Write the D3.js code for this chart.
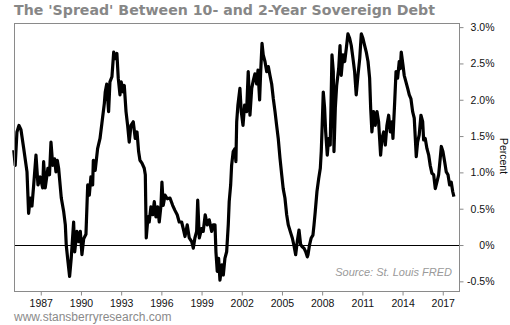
<!DOCTYPE html>
<html>
<head>
<meta charset="utf-8">
<script src="https://cdn.jsdelivr.net/npm/d3@7"></script>
<style>
  html, body { margin: 0; padding: 0; background: #fff; }
  svg { display: block; }
</style>
</head>
<body>
<svg id="chart" width="510" height="325"></svg>
<script>
// ---- data ----
const years = [
  1985.02,1985.13,1985.26,1985.41,1985.56,1985.76,1986.01,1986.13,1986.25,1986.38,1986.51,1986.68,1986.83,
  1987.00,1987.18,1987.25,1987.37,1987.57,1987.69,1987.80,1987.93,1988.07,1988.17,1988.27,1988.37,1988.57,
  1988.75,1988.87,1988.94,1989.07,1989.19,1989.31,1989.49,1989.57,1989.74,1989.87,1989.99,1990.11,1990.24,
  1990.41,1990.54,1990.66,1990.78,1990.91,1990.96,1991.10,1991.28,1991.46,1991.60,1991.78,1991.85,1991.96,
  1992.10,1992.20,1992.35,1992.48,1992.60,1992.72,1992.82,1992.95,1993.04,1993.19,1993.27,1993.40,1993.52,
  1993.64,1993.77,1993.94,1994.09,1994.22,1994.34,1994.44,1994.59,1994.76,1994.84,1994.91,1995.04,1995.13,
  1995.26,1995.39,1995.51,1995.63,1995.76,1995.88,1996.01,1996.08,1996.18,1996.31,1996.48,1996.68,1996.88,
  1997.05,1997.22,1997.37,1997.55,1997.67,1997.80,1997.97,1998.12,1998.30,1998.42,1998.54,1998.67,1998.75,
  1998.87,1999.04,1999.16,1999.31,1999.46,1999.61,1999.79,1999.91,2000.04,2000.11,2000.21,2000.31,2000.41,
  2000.56,2000.66,2000.78,2000.91,2001.03,2001.10,2001.21,2001.28,2001.40,2001.53,2001.60,2001.66,2001.75,
  2001.90,2002.00,2002.13,2002.25,2002.40,2002.52,2002.65,2002.78,2002.90,2003.02,2003.15,2003.25,2003.37,
  2003.45,2003.55,2003.64,2003.77,2003.90,2004.02,2004.14,2004.27,2004.39,2004.52,2004.64,2004.76,2004.89,
  2005.02,2005.13,2005.26,2005.39,2005.51,2005.69,2005.81,2005.93,2006.06,2006.18,2006.31,2006.43,2006.55,
  2006.68,2006.81,2006.93,2006.98,2007.10,2007.22,2007.35,2007.43,2007.52,2007.65,2007.78,2007.90,2007.97,
  2008.04,2008.12,2008.22,2008.30,2008.42,2008.52,2008.64,2008.77,2008.87,2008.92,2009.02,2009.12,2009.27,
  2009.37,2009.46,2009.59,2009.72,2009.84,2009.96,2010.09,2010.21,2010.34,2010.46,2010.58,2010.71,2010.84,
  2010.96,2011.08,2011.21,2011.33,2011.46,2011.58,2011.66,2011.75,2011.88,2012.00,2012.13,2012.25,2012.40,
  2012.50,2012.63,2012.75,2012.87,2013.00,2013.12,2013.25,2013.32,2013.45,2013.55,2013.67,2013.79,2013.87,
  2013.94,2014.07,2014.16,2014.29,2014.42,2014.54,2014.66,2014.79,2014.91,2014.99,2015.06,2015.16,2015.28,
  2015.41,2015.54,2015.61,2015.73,2015.86,2015.99,2016.10,2016.23,2016.36,2016.48,2016.60,2016.73,2016.85,
  2016.93,2017.05,2017.18,2017.30,2017.43,2017.55,2017.67,2017.78,2017.87
];
const spread = [
  1.30,1.09,1.55,1.64,1.58,1.33,1.00,0.43,0.64,0.53,0.82,1.23,0.82,
  0.93,0.78,1.14,0.78,1.05,0.96,1.41,1.09,1.18,1.00,1.16,1.05,0.64,
  0.45,0.27,-0.01,-0.24,-0.44,-0.19,0.31,-0.10,0.18,0.04,0.18,-0.14,0.08,
  0.14,0.82,0.68,0.93,0.82,1.16,1.02,1.32,1.46,1.67,1.94,2.10,2.21,
  1.83,2.24,2.31,2.65,2.56,2.63,2.29,2.06,2.24,2.10,2.19,1.83,1.64,
  1.41,1.64,1.69,1.46,1.55,1.28,1.16,1.12,1.05,0.96,0.09,0.38,0.31,
  0.52,0.41,0.59,0.38,0.52,0.31,0.54,0.86,0.54,0.68,0.63,0.64,0.54,
  0.47,0.41,0.31,0.31,0.22,0.11,0.27,0.09,0.04,-0.05,0.09,0.18,0.61,
  0.09,0.22,0.18,0.41,0.27,0.34,0.18,0.27,0.27,-0.10,-0.37,-0.19,-0.49,
  -0.28,-0.42,-0.19,-0.10,0.27,0.59,0.82,1.09,1.28,1.32,1.14,1.69,1.92,
  2.15,1.83,1.64,1.92,1.83,2.38,1.78,2.15,2.26,2.35,2.21,2.40,1.99,
  2.38,2.77,2.61,2.52,2.38,2.45,2.33,2.21,2.01,1.83,1.64,1.46,1.19,
  0.96,0.77,0.64,0.41,0.27,0.16,0.09,-0.01,-0.14,0.04,0.20,0.00,-0.03,
  -0.05,-0.10,-0.17,-0.14,0.00,0.09,0.13,0.27,0.45,0.73,0.91,1.05,1.28,
  1.64,2.10,1.88,1.55,1.23,1.46,1.37,2.61,2.38,1.28,1.88,2.19,2.42,
  2.74,2.33,2.61,2.52,2.70,2.90,2.84,2.74,2.56,2.38,2.06,2.33,2.56,
  2.90,2.84,2.74,2.65,2.52,2.29,1.87,1.55,1.83,1.64,1.83,1.69,1.23,
  1.46,1.55,1.37,1.64,1.78,1.55,1.69,1.46,1.96,2.38,2.29,2.52,2.42,
  2.65,2.47,2.33,2.24,2.15,2.06,2.01,1.83,1.74,1.46,1.21,1.41,1.51,
  1.78,1.69,1.44,1.46,1.32,1.23,1.09,0.98,0.96,0.77,0.86,0.96,1.19,
  1.35,1.28,1.14,1.00,0.96,0.82,0.86,0.73,0.66
];
const xTicks = [1987,1990,1993,1996,1999,2002,2005,2008,2011,2014,2017];
const yTicks = [-0.5,0,0.5,1.0,1.5,2.0,2.5,3.0];
const yTickLabels = ["-0.5%","0%","0.5%","1.0%","1.5%","2.0%","2.5%","3.0%"];

const title = "The 'Spread' Between 10- and 2-Year Sovereign Debt";
const source = "Source: St. Louis FRED";
const footer = "www.stansberryresearch.com";
const yLabel = "Percent";

// ---- layout ----
const L = 14, R = 459, T = 23, B = 291;
const svg = d3.select("#chart");

const x = d3.scaleLinear().domain([1985.04, 2018.25]).range([L, R]);
const y = d3.scaleLinear().domain([-0.64, 3.05]).range([B, T]);

const data = years.map((yr, i) => ({ t: yr, v: spread[i] }));

// title
svg.append("text")
  .attr("x", 14).attr("y", 15)
  .attr("font-family", "DejaVu Sans, Verdana, sans-serif")
  .attr("font-weight", "bold")
  .attr("font-size", 13.5)
  .attr("fill", "#878787")
  .attr("textLength", 421)
  .attr("lengthAdjust", "spacingAndGlyphs")
  .text(title);

// zero line
svg.append("line")
  .attr("x1", L).attr("x2", R)
  .attr("y1", Math.round(y(0)) + 0.5).attr("y2", Math.round(y(0)) + 0.5)
  .attr("stroke", "#000").attr("stroke-width", 1.2);

// series line
const line = d3.line().x(d => x(d.t)).y(d => y(d.v));
svg.append("path")
  .datum(data)
  .attr("d", line)
  .attr("fill", "none")
  .attr("stroke", "#000")
  .attr("stroke-width", 3.2)
  .attr("stroke-linejoin", "round");

// frame
svg.append("rect")
  .attr("x", L + 0.5).attr("y", T + 0.5)
  .attr("width", R - L).attr("height", B - T)
  .attr("fill", "none").attr("stroke", "#8a8a8a").attr("stroke-width", 1);

// bottom axis
const gx = svg.append("g")
  .attr("transform", `translate(0.5,${B + 0.5})`)
  .call(d3.axisBottom(x).tickValues(xTicks).tickFormat(d3.format("d")).tickSize(4).tickPadding(4));
gx.select(".domain").remove();
gx.selectAll(".tick line").attr("stroke", "#8a8a8a");
gx.selectAll(".tick text")
  .attr("font-family", "Liberation Sans, Arial, sans-serif")
  .attr("font-size", 10.5).attr("fill", "#111");

// right axis
const gy = svg.append("g")
  .attr("transform", `translate(${R + 0.5},0.5)`)
  .call(d3.axisRight(y).tickValues(yTicks).tickFormat((d, i) => yTickLabels[i]).tickSize(4));
gy.select(".domain").remove();
gy.selectAll(".tick line").attr("stroke", "#8a8a8a");
gy.selectAll(".tick text")
  .attr("x", 494 - R)
  .attr("text-anchor", "end")
  .attr("font-family", "Liberation Sans, Arial, sans-serif")
  .attr("font-size", 10.5).attr("fill", "#111");

// y label
svg.append("text")
  .attr("transform", `translate(500,156) rotate(90)`)
  .attr("text-anchor", "middle")
  .attr("font-family", "Liberation Sans, Arial, sans-serif")
  .attr("font-size", 10.5).attr("fill", "#111")
  .text(yLabel);

// source
svg.append("text")
  .attr("x", 452).attr("y", 276)
  .attr("text-anchor", "end")
  .attr("font-family", "Liberation Sans, Arial, sans-serif")
  .attr("font-style", "italic")
  .attr("font-size", 11).attr("fill", "#9a9a9a")
  .text(source);

// footer
svg.append("text")
  .attr("x", 14).attr("y", 321)
  .attr("font-family", "Liberation Sans, Arial, sans-serif")
  .attr("font-size", 12).attr("fill", "#8a8a8a")
  .text(footer);
</script>
</body>
</html>
